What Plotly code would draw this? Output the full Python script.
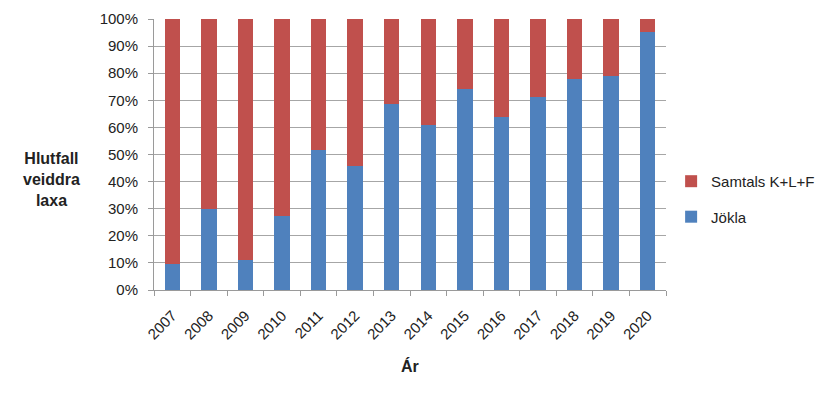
import plotly.graph_objects as go

years = ["2007", "2008", "2009", "2010", "2011", "2012", "2013",
         "2014", "2015", "2016", "2017", "2018", "2019", "2020"]
jokla = [9.7, 30.0, 10.9, 27.4, 51.8, 45.8, 68.8,
         60.8, 74.3, 63.8, 71.4, 77.9, 79.1, 95.1]
samtals = [round(100 - v, 1) for v in jokla]

FONT = "Liberation Sans"

fig = go.Figure()
fig.add_trace(go.Bar(x=years, y=[v / 100 for v in jokla], name="Jökla",
                     legendgroup="j", legendrank=2,
                     marker=dict(color="#4F81BD", line=dict(width=0))))
fig.add_trace(go.Bar(x=years, y=[v / 100 for v in samtals], name="Samtals K+L+F",
                     legendgroup="s", legendrank=1,
                     marker=dict(color="#C0504D", line=dict(width=0))))

fig.update_layout(
    width=832, height=388,
    barmode="stack", bargap=0.58,
    plot_bgcolor="white", paper_bgcolor="white",
    margin=dict(l=146, r=174, t=11, b=106, autoexpand=False),
    font=dict(family=FONT, size=14, color="#222222"),
    legend=dict(x=1.01, y=0.336, xanchor="left", yanchor="middle",
                traceorder="grouped", font=dict(size=15),
                itemwidth=30, tracegroupgap=13),
    showlegend=True,
)
fig.update_xaxes(
    type="category", tickangle=-45, showgrid=False, automargin=False,
    showline=True, linecolor="#9a9a9a", linewidth=1,
    ticks="outside", tickson="boundaries", ticklen=5, tickcolor="#9a9a9a",
    tickfont=dict(size=15), ticklabelstandoff=10,
)
fig.update_yaxes(
    range=[0, 1], dtick=0.1, tickformat=".0%", automargin=False,
    showgrid=True, gridcolor="#a6a6a6", gridwidth=1,
    showline=True, linecolor="#9a9a9a", linewidth=1,
    ticks="outside", ticklen=5, tickcolor="#9a9a9a",
    tickfont=dict(size=15), zeroline=False, ticklabelstandoff=7,
)
fig.add_annotation(
    text="<b>Hlutfall<br>veiddra<br>laxa</b>",
    xref="paper", yref="paper", x=-0.2, y=0.406,
    xanchor="center", yanchor="middle", showarrow=False,
    font=dict(size=16, family=FONT), align="center",
)
fig.add_annotation(
    text="<b>Ár</b>",
    xref="paper", yref="paper", x=0.5, y=-0.28,
    xanchor="center", yanchor="middle", showarrow=False,
    font=dict(size=16, family=FONT),
)

fig.write_html("out.html")
